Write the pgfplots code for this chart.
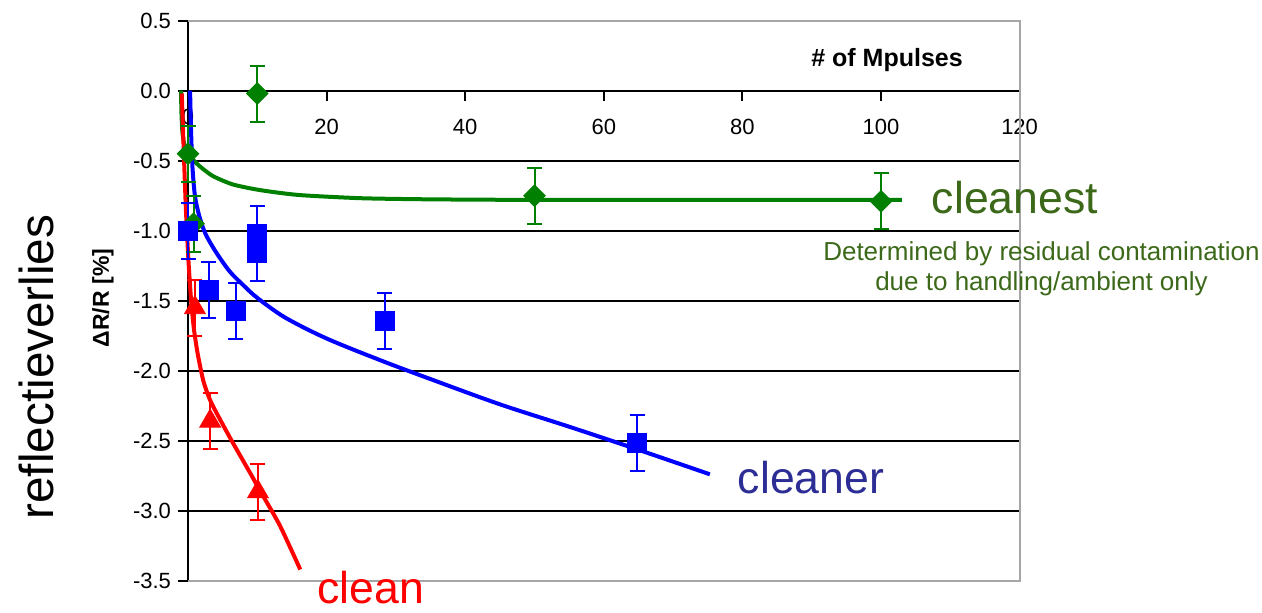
\documentclass[border=0pt]{standalone}
\usepackage{fontspec}
\setmainfont{Liberation Sans}
\usepackage{pgfplots}
\pgfplotsset{compat=1.18}
\definecolor{mgreen}{RGB}{0,128,0}
\definecolor{mblue}{RGB}{0,0,255}
\definecolor{mred}{RGB}{255,0,0}
\definecolor{tgreen}{RGB}{60,105,25}
\definecolor{tblue}{RGB}{45,45,150}
\begin{document}
\begin{tikzpicture}[x=1pt,y=1pt]
\useasboundingbox (0,0) rectangle (631,306);
\begin{axis}[
 at={(94pt,15.65pt)}, anchor=south west,
 scale only axis, width=415.8pt, height=280pt,
 xmin=0, xmax=120, ymin=-3.5, ymax=0.5,
 axis x line*=middle, axis y line*=left,
 axis line style={black, line width=1pt},
 xtick={20,40,...,120}, ytick={-3.5,-3,...,0.5},
 extra x ticks={0}, extra x tick style={major tick length=0pt},
 yticklabels={-3.5,-3.0,-2.5,-2.0,-1.5,-1.0,-0.5,0.0,0.5},
 xticklabels={20,40,60,80,100,120},
 extra x tick labels={0},
 tick align=outside, major tick length=5pt,
 tick style={black, line width=1pt},
 ymajorgrids, major grid style={black, line width=1pt},
 ticklabel style={font=\fontsize{11}{13}\selectfont, black},
 xticklabel style={yshift=-5.5pt},
 clip=false,
]
% border
\draw[gray!70, line width=1pt] (axis cs:0,0.5) -- (axis cs:120,0.5) -- (axis cs:120,-3.5) -- (axis cs:0,-3.5);
% curves
\addplot[mgreen, line width=2pt, smooth, tension=0.4] coordinates {
(-1.0,0.0) (-0.95,-0.15) (-0.8,-0.3) (-0.45,-0.4) (0.3,-0.47) (1.7,-0.54) (3.6,-0.61) (6.5,-0.67) (10.4,-0.71) (16,-0.745) (25,-0.768) (35,-0.776) (50,-0.78) (70,-0.78) (103,-0.78)};
\addplot[mblue, line width=2pt, smooth, tension=0.5] coordinates {
(0.3,0) (0.45,-0.3) (0.65,-0.55) (1.0,-0.75) (1.6,-0.89) (2.5,-1.02) (4,-1.15) (6,-1.29) (8,-1.39) (10,-1.48) (14,-1.62) (20,-1.77) (28,-1.93) (35,-2.06) (45,-2.24) (55,-2.40) (65,-2.565) (75.3,-2.74)};
\addplot[mred, line width=2pt, smooth, tension=0.4] coordinates {
(-0.9,-0.02) (-0.6,-0.45) (-0.3,-0.85) (0.05,-1.2) (0.45,-1.5) (0.85,-1.7) (1.4,-1.88) (2.2,-2.07) (3.1,-2.2) (4.1,-2.3) (6.3,-2.5) (8.5,-2.69) (10.9,-2.9) (13.3,-3.11) (16.2,-3.42)};
% markers
\addplot[only marks, mgreen, mark=square*, mark size=3.8pt, mark options={rotate=45, fill=mgreen, draw=mgreen},
 error bars/.cd, y dir=both, y explicit, error bar style={line width=1pt, mgreen},
 error mark options={mgreen, mark size=3.75pt, line width=1pt, rotate=90}]
 coordinates {(0,-0.45) +- (0,0.2) (0.8,-0.95) +- (0,0.2) (10,-0.02) +- (0,0.2) (50,-0.75) +- (0,0.2) (100,-0.79) +- (0,0.2)};
\addplot[only marks, mblue, mark=square*, mark size=4.75pt, mark options={fill=mblue, draw=mblue},
 error bars/.cd, y dir=both, y explicit, error bar style={line width=1pt, mblue},
 error mark options={mblue, mark size=3.75pt, line width=1pt, rotate=90}]
 coordinates {(0,-1.0) +- (0,0.2) (3,-1.42) +- (0,0.2) (6.9,-1.57) +- (0,0.2) (10,-1.02) +- (0,0.2) (10,-1.16) +- (0,0.2) (28.4,-1.645) +- (0,0.2) (64.8,-2.516) +- (0,0.2)};
\addplot[only marks, mred, mark=triangle*, mark size=6pt, mark options={fill=mred, draw=mred},
 error bars/.cd, y dir=both, y explicit, error bar style={line width=1pt, mred},
 error mark options={mred, mark size=3.75pt, line width=1pt, rotate=90}]
 coordinates {(1.0,-1.55) +- (0,0.2) (3.2,-2.36) +- (0,0.2) (10.1,-2.865) +- (0,0.2)};
\end{axis}
\node[font=\bfseries\fontsize{12.5}{14}\selectfont, inner sep=0pt] at (443.5,276) {\# of Mpulses};
\node[font=\bfseries\fontsize{11.5}{13}\selectfont, inner sep=0pt, rotate=90] at (51.5,157) {ΔR/R [\%]};
\node[font=\fontsize{23.85}{28}\selectfont, inner sep=0pt, rotate=90] at (18,122.5) {reflectieverlies};
\node[font=\fontsize{22.3}{26}\selectfont, inner sep=0pt, text=tgreen] at (507.5,207) {cleanest};
\node[font=\fontsize{13}{15}\selectfont, inner sep=0pt, text=tgreen, align=center] at (520.75,171.5) {Determined by residual contamination\\due to handling/ambient only};
\node[font=\fontsize{22.3}{26}\selectfont, inner sep=0pt, text=tblue] at (405.5,67) {cleaner};
\node[font=\fontsize{22.3}{26}\selectfont, inner sep=0pt, text=mred] at (185.5,12) {clean};
\end{tikzpicture}
\end{document}
